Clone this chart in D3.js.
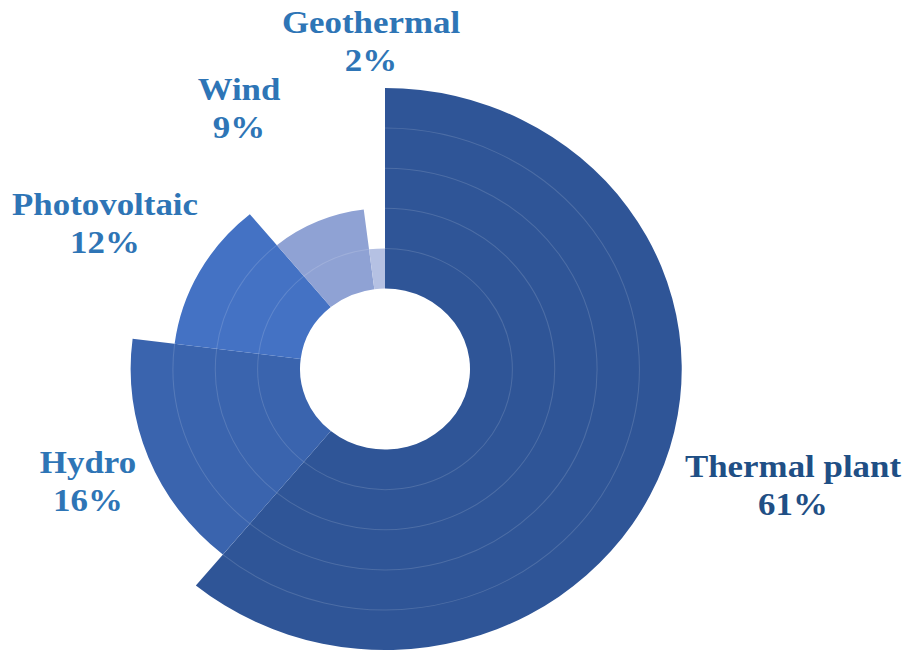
<!DOCTYPE html>
<html><head><meta charset="utf-8">
<script src="https://cdn.jsdelivr.net/npm/d3@7"></script>
<style>html,body{margin:0;padding:0;background:#fff;overflow:hidden;}</style>
</head><body>
<svg id="chart" width="909" height="656"></svg>
<script>
// ---- data ----
const categories = ["Thermal plant", "Hydro", "Photovoltaic", "Wind", "Geothermal"];
const shares = [61, 16, 12, 9, 2];          // percent, sets the angle
const levels = [5, 4, 3, 2, 1];             // number of rings, sets the radius
const shareLabels = ["61%", "16%", "12%", "9%", "2%"];

// ---- styles / layout ----
const fillColors = ["#2f5597", "#3a64ae", "#4472c4", "#8fa2d4", "#b5c1e3"];
const textColors = ["#1f4f85", "#2e75b6", "#2e75b6", "#2e75b6", "#2e75b6"];
const labelLayout = [
  {x: 793, y: 477},
  {x: 88,  y: 473},
  {x: 105, y: 215},
  {x: 239, y: 100},
  {x: 371, y: 33}
];
const cx = 385, cy = 369, stretchX = 1.056;
const lineGap = 38;

const svg = d3.select("#chart");
const g = svg.append("g").attr("transform", `translate(${cx},${cy}) scale(${stretchX},1)`);

const r = d3.scaleLinear().domain([0, 5]).range([80.5, 281]);

const pie = d3.pie().sort(null).value(d => d.share).startAngle(0).endAngle(2 * Math.PI);
const data = categories.map((c, i) => ({name: c, share: shares[i], level: levels[i], i}));
const arcs = pie(data);

const arc = d3.arc();

// sectors
g.selectAll("path.sector").data(arcs).join("path")
  .attr("class", "sector")
  .attr("fill", d => fillColors[d.data.i])
  .attr("d", d => arc({innerRadius: r(0), outerRadius: r(d.data.level),
                       startAngle: d.startAngle, endAngle: d.endAngle}));

// faint ring separators inside each sector
const seps = [];
arcs.forEach(d => {
  for (let k = 1; k < d.data.level; k++) {
    seps.push({k, startAngle: d.startAngle, endAngle: d.endAngle});
  }
});
g.selectAll("path.sep").data(seps).join("path")
  .attr("class", "sep")
  .attr("fill", "none")
  .attr("stroke", "rgba(255,255,255,0.14)")
  .attr("stroke-width", 1)
  .attr("d", s => {
    const p = d3.path();
    const a0 = s.startAngle - Math.PI / 2, a1 = s.endAngle - Math.PI / 2;
    const rr = r(s.k);
    p.moveTo(rr * Math.cos(a0), rr * Math.sin(a0));
    p.arc(0, 0, rr, a0, a1, false);
    return p.toString();
  });

// labels
const lab = svg.append("g");
categories.forEach((c, i) => {
  const L = labelLayout[i];
  const t = lab.append("g").attr("transform", `translate(${L.x},0)`);
  [c, shareLabels[i]].forEach((txt, j) => {
    t.append("text")
      .attr("transform", `translate(0,${L.y + j * lineGap}) scale(1.09,1)`)
      .attr("text-anchor", "middle")
      .attr("font-family", "'Liberation Serif', 'Times New Roman', serif")
      .attr("font-weight", "bold")
      .attr("font-size", 32)
      .attr("fill", textColors[i])
      .text(txt);
  });
});
</script>
</body></html>
